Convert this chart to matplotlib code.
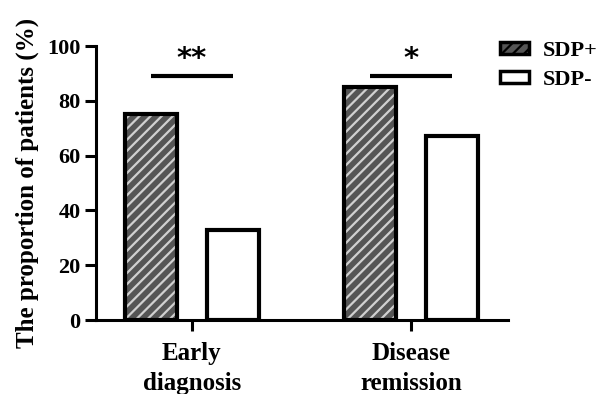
import numpy as np
import matplotlib
matplotlib.use("Agg")
import matplotlib.pyplot as plt
from matplotlib.patches import Patch

plt.rcParams['font.family'] = 'Liberation Serif'
plt.rcParams['font.weight'] = 'bold'
plt.rcParams['hatch.linewidth'] = 1.6

categories = ['Early\ndiagnosis', 'Disease\nremission']
sdp_pos = [75, 85]
sdp_neg = [33, 67]
sig_labels = ['**', '*']
sig_height = [89, 89]

fig = plt.figure(figsize=(6.06, 3.94), dpi=100)
ax = fig.add_axes([96/606, 1-320/394, (508-96)/606, (320-46)/394])

x = np.arange(len(categories))
w = 0.24
off = 0.187

# hatched bars: dark fill with light stripes, then black outline on top
ax.bar(x - off, sdp_pos, w, color='#555555', edgecolor='#d0d0d0', hatch='///', linewidth=0)
ax.bar(x - off, sdp_pos, w, color='none', edgecolor='black', linewidth=3)
ax.bar(x + off, sdp_neg, w, color='white', edgecolor='black', linewidth=3)

for i in range(len(categories)):
    ax.plot([x[i] - off, x[i] + off], [sig_height[i], sig_height[i]], color='black', lw=3,
            solid_capstyle='butt')
    ax.text(x[i], sig_height[i] + 1, sig_labels[i], ha='center', va='bottom', fontsize=21,
            family='DejaVu Sans', fontweight='bold')

ax.set_xlim(-0.438, 1.443)
ax.set_ylim(0, 100)
ax.set_yticks([0, 20, 40, 60, 80, 100])
ax.set_xticks(x)
ax.set_xticklabels(categories, fontsize=18, fontweight='bold', linespacing=1.35)
ax.tick_params(axis='y', labelsize=16, width=2.2, length=8, direction='out', pad=3)
ax.tick_params(axis='x', width=2.2, length=8, direction='out', pad=8)
for t in ax.get_yticklabels():
    t.set_fontweight('bold')

ax.spines['top'].set_visible(False)
ax.spines['right'].set_visible(False)
ax.spines['left'].set_linewidth(2.2)
ax.spines['bottom'].set_linewidth(2.2)

ax.set_ylabel('The proportion of patients (%)', fontsize=18, fontweight='bold', labelpad=6)

handles = [Patch(facecolor='#555555', edgecolor='black', hatch='///', linewidth=2.5, label='SDP+'),
           Patch(facecolor='white', edgecolor='black', linewidth=2.5, label='SDP-')]
leg = ax.legend(handles=handles, loc='upper left', bbox_to_anchor=(0.96, 1.05), frameon=False,
                fontsize=16, handlelength=1.3, handleheight=0.45, labelspacing=0.4,
                handletextpad=0.6, borderaxespad=0)
for t in leg.get_texts():
    t.set_fontweight('bold')

fig.savefig('out.png', dpi=100)
